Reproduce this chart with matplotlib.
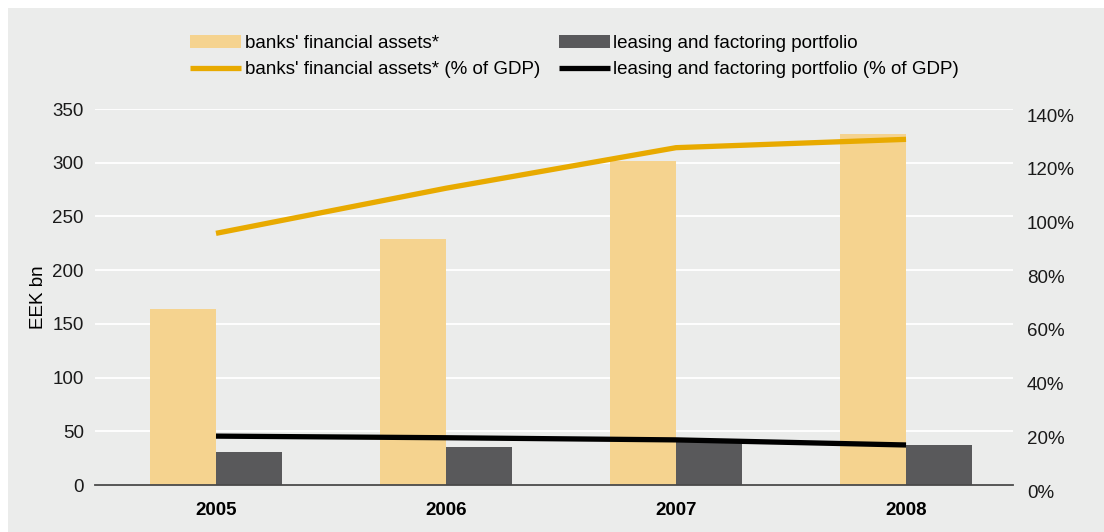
import matplotlib.pyplot as plt
import matplotlib.transforms as mtransforms
from matplotlib.patches import Rectangle
import numpy as np

plt.rcParams['font.family'] = ['Liberation Sans', 'DejaVu Sans']

years = ['2005', '2006', '2007', '2008']
bank_assets = [164, 229, 302, 327]          # EEK bn
leasing_portfolio = [31, 35, 40, 37]        # EEK bn
bank_assets_gdp = [93.7, 110.5, 125.6, 128.7]   # % of GDP
leasing_gdp = [18.2, 17.6, 16.8, 14.9]          # % of GDP

bg = '#EBECEB'
bank_bar_color = '#F5D38F'
leasing_bar_color = '#59595B'
bank_line_color = '#E8AA00'
leasing_line_color = '#000000'
fs = 13.5

fig = plt.figure(figsize=(11.04, 5.32), dpi=100, facecolor='white')
fig.patches.append(Rectangle((8 / 1104, 0), 1, 1 - 8 / 532, transform=fig.transFigure,
                             facecolor=bg, edgecolor='none', zorder=-10))

ax = fig.add_axes([95 / 1104, 47 / 532, (1013 - 95) / 1104, (485 - 109) / 532])
ax.set_facecolor(bg)
ax2 = ax.twinx()

x = np.arange(len(years))
w = 0.287
ax.bar(x - w / 2, bank_assets, width=w, color=bank_bar_color, zorder=2,
       label="banks' financial assets*")
ax.bar(x + w / 2, leasing_portfolio, width=w, color=leasing_bar_color, zorder=2,
       label='leasing and factoring portfolio')

ax2.plot(x, bank_assets_gdp, color=bank_line_color, lw=3.8, solid_capstyle='butt',
         label="banks' financial assets* (% of GDP)")
ax2.plot(x, leasing_gdp, color=leasing_line_color, lw=3.8, solid_capstyle='butt',
         label='leasing and factoring portfolio (% of GDP)')

ax.set_xlim(-0.526, 3.465)
ax.set_ylim(0, 350)
ax2.set_ylim(0, 140)
ax.set_yticks(range(0, 351, 50))
ax2.set_yticks(range(0, 141, 20))
ax2.set_yticklabels([f'{v}%' for v in range(0, 141, 20)])

ax.grid(axis='y', color='white', lw=1.3, zorder=0)
ax.set_axisbelow(True)
for a in (ax, ax2):
    for s in a.spines.values():
        s.set_visible(False)
ax.spines['bottom'].set_visible(True)
ax.spines['bottom'].set_color('#4A4A4A')
ax.spines['bottom'].set_linewidth(1.3)
ax.spines['bottom'].set_zorder(5)

ax.set_xticks(x)
ax.set_xticklabels(years, fontweight='bold', fontsize=fs)
ax.tick_params(axis='x', length=0, pad=12)
ax.tick_params(axis='y', length=0, labelsize=fs, pad=8, colors='#1A1A1A')
ax2.tick_params(axis='y', length=0, labelsize=fs, pad=10, colors='#1A1A1A')
shift = mtransforms.ScaledTranslation(0, -6 / 100, fig.dpi_scale_trans)
for lab in ax2.get_yticklabels():
    lab.set_transform(lab.get_transform() + shift)

ax.set_ylabel('EEK bn', fontsize=fs, labelpad=4)

ax.set_zorder(ax2.get_zorder() - 1)
ax.patch.set_visible(True)
ax2.patch.set_visible(False)

h1, l1 = ax.get_legend_handles_labels()
h2, l2 = ax2.get_legend_handles_labels()
handles = [h1[0], h2[0], h1[1], h2[1]]
labels = [l1[0], l2[0], l1[1], l2[1]]
fig.legend(handles, labels, ncol=2, loc='upper left', bbox_to_anchor=(183 / 1104, 1 - 27 / 532),
           frameon=False, fontsize=fs, handlelength=2.7, handletextpad=0.2,
           columnspacing=1.0, labelspacing=0.5, borderaxespad=0)

fig.savefig('out.png', dpi=100, facecolor=fig.get_facecolor())
